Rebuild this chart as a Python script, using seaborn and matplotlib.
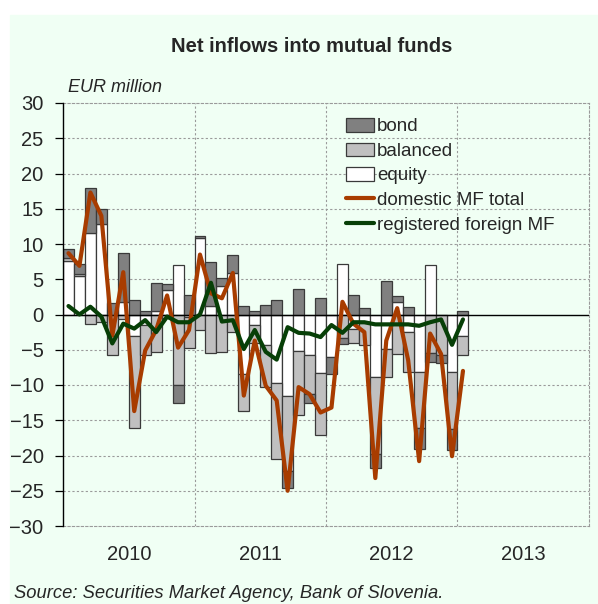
import matplotlib
matplotlib.use('Agg')
import matplotlib.pyplot as plt
import numpy as np
import seaborn as sns
from matplotlib.lines import Line2D
from matplotlib.patches import Patch, Rectangle

# monthly net inflows, Jan 2010 - Jan 2013 (EUR million)
equity = [
    7.6, 5.5, 11.5, 12.8, 0.0, 1.8, -3.1, -1.5, 0.5, 3.5, 7.0, -0.3,
    10.8, 1.2, 4.0, 5.9, -8.4, -1.5, -4.3, -9.7, -11.6, -5.2, -5.7, -8.3,
    -6.0, 7.1, -2.0, -1.0, -8.8, -4.9, 1.8, -2.5, -8.1, 7.0, 0.0, -8.2,
    -3.0,
]
balanced = [
    0.4, 0.3, -1.4, -1.0, -5.8, -0.7, -13.0, -4.3, -5.3, -0.5, -10.0, -4.5,
    -2.2, -5.5, -5.3, -2.5, -5.3, -2.5, -6.0, -10.8, -10.6, -9.0, -5.6, -8.8,
    0.0, -3.3, -2.0, -3.3, -11.0, -4.0, -5.6, -5.6, -8.0, -5.5, -5.8, -8.0,
    -2.8,
]
bond = [
    1.3, 1.3, 6.5, 2.1, 1.7, 6.9, 2.1, 0.5, 4.0, 0.8, -2.6, 2.8,
    0.3, 6.2, 1.2, 2.5, 1.2, 0.5, 1.3, 2.1, -2.4, 3.6, -1.3, 2.4,
    -2.4, -0.9, 2.7, 0.9, -2.0, 4.8, 0.8, 1.0, -3.0, -1.3, -1.1, -3.0,
    0.5,
]
domestic_total = [
    8.7, 6.9, 17.3, 14.0, -3.0, 6.0, -13.7, -5.1, -2.2, 2.7, -4.7, -2.2,
    8.5, 3.0, 2.3, 5.9, -11.5, -3.7, -10.1, -12.2, -25.0, -10.3, -11.3, -13.9,
    -13.2, 1.8, -1.3, -2.5, -23.2, -3.7, 0.9, -6.5, -20.8, -2.7, -5.6, -20.1,
    -8.0,
]
foreign_mf = [
    1.2, 0.0, 1.1, -0.3, -4.1, -1.3, -2.0, -0.8, -2.5, -0.3, -1.1, -1.1,
    0.0, 4.5, -1.0, -0.8, -4.9, -2.2, -5.3, -6.4, -1.8, -2.6, -2.7, -3.2,
    -1.5, -2.6, -1.1, -1.1, -1.4, -1.4, -1.4, -1.4, -1.6, -1.1, -0.7, -4.3,
    -0.7,
]
years = ['2010', '2011', '2012', '2013']

MINT = '#F0FFF4'
EDGE = '#3a3a3a'
ORANGE = '#A83C00'
GREEN = '#073F07'

sns.set_style('white')
plt.rcParams['font.family'] = ['Liberation Sans', 'DejaVu Sans']

fig = plt.figure(figsize=(5.98, 6.04), dpi=100, facecolor='white')
fig.patches.append(Rectangle((10 / 598, 0), 1, (604 - 15) / 604, transform=fig.transFigure,
                             color=MINT, zorder=-10))
ax = fig.add_axes([63 / 598, (604 - 526) / 604, 526 / 598, 423 / 604])
ax.set_facecolor(MINT)

# stacked bars: positives stack up from zero, negatives down, in series order
x = np.arange(len(equity)) + 0.5
pos_base = np.zeros(len(x))
neg_base = np.zeros(len(x))
series = [('equity', equity, 'white'), ('balanced', balanced, '#C0C0C0'), ('bond', bond, '#808080')]
for name, vals, col in series:
    v = np.array(vals)
    bottom = np.where(v >= 0, pos_base, neg_base)
    ax.bar(x, v, bottom=bottom, width=1.0, color=col, edgecolor=EDGE, linewidth=0.9, zorder=3)
    pos_base = pos_base + np.clip(v, 0, None)
    neg_base = neg_base + np.clip(v, None, 0)

sns.lineplot(x=x, y=domestic_total, ax=ax, color=ORANGE, linewidth=3.0, zorder=5)
sns.lineplot(x=x, y=foreign_mf, ax=ax, color=GREEN, linewidth=3.0, zorder=6)

ax.set_xlim(0, 48)
ax.set_ylim(-30, 30)
ax.set_yticks(range(-30, 31, 5))
ax.set_xticks([6, 18, 30, 42], years)
ax.tick_params(axis='x', length=0, pad=14, labelsize=14.5)
ax.tick_params(axis='y', left=True, length=6, width=0.9, color='black', pad=8, labelsize=14.5)

dash = (0, (2, 2))
for yv in range(-25, 30, 5):
    if yv != 0:
        ax.axhline(yv, color='#9a9a9a', lw=0.8, ls=dash, zorder=1)
for xv in [12, 24, 36]:
    ax.axvline(xv, color='#9a9a9a', lw=0.8, ls=dash, zorder=1)
ax.axhline(0, color='black', lw=1.0, zorder=4)
for side in ['top', 'right', 'bottom']:
    ax.spines[side].set_color('#9a9a9a')
    ax.spines[side].set_linestyle(dash)
    ax.spines[side].set_linewidth(0.8)
ax.spines['left'].set_color('black')
ax.spines['left'].set_linewidth(1.0)
ax.spines['left'].set_zorder(7)

handles = [
    Patch(facecolor='#808080', edgecolor=EDGE, linewidth=0.9),
    Patch(facecolor='#C0C0C0', edgecolor=EDGE, linewidth=0.9),
    Patch(facecolor='white', edgecolor=EDGE, linewidth=0.9),
    Line2D([], [], color=ORANGE, lw=3.0),
    Line2D([], [], color=GREEN, lw=3.0),
]
labels = ['bond', 'balanced', 'equity', 'domestic MF total', 'registered foreign MF']
leg = ax.legend(handles, labels, loc='upper left', bbox_to_anchor=(0.51, 1.0), frameon=False,
                fontsize=13.5, handlelength=1.5, handleheight=0.75, handletextpad=0.15,
                labelspacing=0.38, borderpad=0.3)
leg.set_zorder(10)

fig.text(312 / 598, 1 - 47 / 604, 'Net inflows into mutual funds', ha='center', va='center',
         fontsize=14.5, fontweight='bold')
fig.text(68 / 598, 1 - 88 / 604, 'EUR million', ha='left', va='center', fontsize=13, style='italic')
fig.text(14 / 598, 1 - 593 / 604, 'Source: Securities Market Agency, Bank of Slovenia.', ha='left',
         va='center', fontsize=13.2, style='italic')

fig.savefig('out.png', dpi=100, facecolor=fig.get_facecolor())
